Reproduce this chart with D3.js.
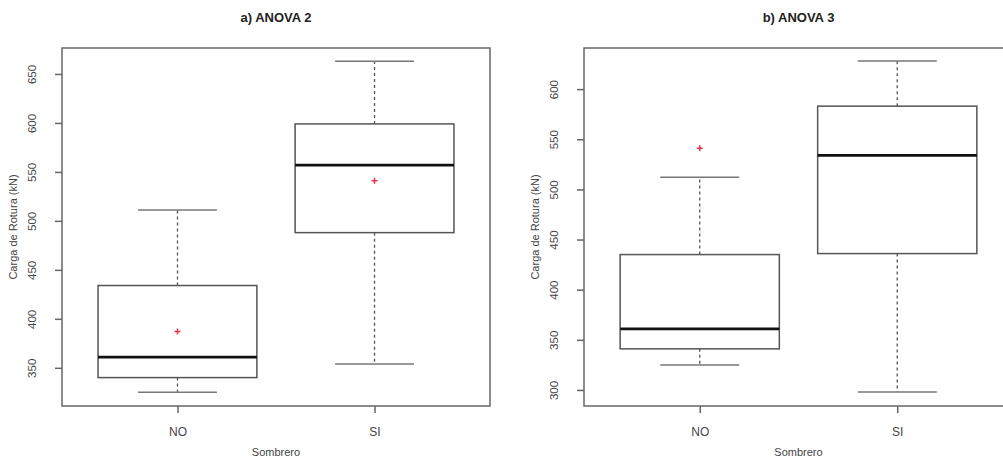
<!DOCTYPE html>
<html>
<head>
<meta charset="utf-8">
<script src="https://cdn.jsdelivr.net/npm/d3@7"></script>
<style>
  body { margin: 0; background: #fff; }
  text { font-family: "Liberation Sans", Arial, sans-serif; }
</style>
</head>
<body>
<svg id="chart" width="1003" height="461"></svg>
<script>
// categories and panel titles
var categories = ["NO", "SI"];
var panelTitles = ["a) ANOVA 2", "b) ANOVA 3"];

// ANOVA 2 box stats (kN)
var anova2Low = [325, 354];
var anova2Q1 = [340, 488];
var anova2Median = [361, 557];
var anova2Q3 = [434, 599];
var anova2High = [511, 663];
var anova2Mean = [387, 541];
var anova2Ticks = [350, 400, 450, 500, 550, 600, 650];

// ANOVA 3 box stats (kN)
var anova3Low = [325, 298];
var anova3Q1 = [341, 436];
var anova3Median = [361, 534];
var anova3Q3 = [435, 583];
var anova3High = [512, 628];
var anova3Mean = [541, null];
var anova3Ticks = [300, 350, 400, 450, 500, 550, 600];

var svg = d3.select("#chart");
var lineCol = "#555";
var textCol = "#444";

function buildRows(low, q1, med, q3, high, mean) {
    return categories.map(function (c, i) {
        return { cat: c, low: low[i], q1: q1[i], med: med[i], q3: q3[i], high: high[i], mean: mean[i] };
    });
}

function drawPanel(opts) {
    var x = d3.scalePoint()
        .domain(categories)
        .range([opts.left, opts.right])
        .padding(0.586);
    var y = d3.scaleLinear()
        .domain(opts.yDomain)
        .range([opts.bottom, opts.top]);
    var step = x.step();
    var boxHalf = step * 0.403;
    var capHalf = step * 0.2;

    var g = svg.append("g");

    // title
    g.append("text")
        .attr("x", (opts.left + opts.right) / 2)
        .attr("y", 22)
        .attr("text-anchor", "middle")
        .style("font-size", "13px")
        .style("font-weight", "bold")
        .style("fill", "#222")
        .text(opts.title);

    // frame
    g.append("rect")
        .attr("x", opts.left)
        .attr("y", opts.top)
        .attr("width", opts.right - opts.left)
        .attr("height", opts.bottom - opts.top)
        .attr("fill", "none")
        .attr("stroke", "#666")
        .attr("stroke-width", 1.5);

    // y axis
    var yAxis = d3.axisLeft(y).tickValues(opts.ticks).tickSize(7).tickPadding(0);
    var ya = g.append("g")
        .attr("transform", "translate(" + opts.left + ",0)")
        .call(yAxis);
    ya.select(".domain").remove();
    ya.selectAll(".tick line").attr("stroke", "#666").attr("stroke-width", 1.5);
    ya.selectAll(".tick text")
        .attr("x", 0)
        .attr("text-anchor", "middle")
        .attr("transform", "translate(-30,0) rotate(-90)")
        .attr("dy", "0.35em")
        .style("font-size", "11.5px")
        .style("font-family", "Liberation Sans, Arial, sans-serif")
        .style("fill", textCol);

    // x axis
    var xAxis = d3.axisBottom(x).tickSize(7).tickPadding(0);
    var xa = g.append("g")
        .attr("transform", "translate(0," + opts.bottom + ")")
        .call(xAxis);
    xa.select(".domain").remove();
    xa.selectAll(".tick line").attr("stroke", "#666").attr("stroke-width", 1.5);
    xa.selectAll(".tick text")
        .attr("y", 26).attr("dy", "0.35em")
        .style("font-size", "12px")
        .style("font-family", "Liberation Sans, Arial, sans-serif")
        .style("fill", textCol);

    // axis titles
    g.append("text")
        .attr("x", (opts.left + opts.right) / 2)
        .attr("y", 456)
        .attr("text-anchor", "middle")
        .style("font-size", "11px")
        .style("fill", textCol)
        .text("Sombrero");
    g.append("text")
        .attr("transform", "translate(" + (opts.left - 45) + "," + ((opts.top + opts.bottom) / 2) + ") rotate(-90)")
        .attr("text-anchor", "middle")
        .style("font-size", "11px")
        .style("fill", textCol)
        .text("Carga de Rotura (kN)");

    var boxes = g.selectAll(".box")
        .data(opts.rows)
        .enter().append("g")
        .attr("class", "box");

    // whiskers (dashed)
    boxes.append("line")
        .attr("x1", function (d) { return x(d.cat); })
        .attr("x2", function (d) { return x(d.cat); })
        .attr("y1", function (d) { return y(d.q3); })
        .attr("y2", function (d) { return y(d.high); })
        .attr("stroke", lineCol).attr("stroke-width", 1.3)
        .attr("stroke-dasharray", "3,3");
    boxes.append("line")
        .attr("x1", function (d) { return x(d.cat); })
        .attr("x2", function (d) { return x(d.cat); })
        .attr("y1", function (d) { return y(d.q1); })
        .attr("y2", function (d) { return y(d.low); })
        .attr("stroke", lineCol).attr("stroke-width", 1.3)
        .attr("stroke-dasharray", "3,3");

    // caps
    ["low", "high"].forEach(function (k) {
        boxes.append("line")
            .attr("x1", function (d) { return x(d.cat) - capHalf; })
            .attr("x2", function (d) { return x(d.cat) + capHalf; })
            .attr("y1", function (d) { return y(d[k]); })
            .attr("y2", function (d) { return y(d[k]); })
            .attr("stroke", "#777").attr("stroke-width", 1.5);
    });

    // box
    boxes.append("rect")
        .attr("x", function (d) { return x(d.cat) - boxHalf; })
        .attr("width", boxHalf * 2)
        .attr("y", function (d) { return y(d.q3); })
        .attr("height", function (d) { return y(d.q1) - y(d.q3); })
        .attr("fill", "none")
        .attr("stroke", lineCol)
        .attr("stroke-width", 1.5);

    // median
    boxes.append("line")
        .attr("x1", function (d) { return x(d.cat) - boxHalf; })
        .attr("x2", function (d) { return x(d.cat) + boxHalf; })
        .attr("y1", function (d) { return y(d.med); })
        .attr("y2", function (d) { return y(d.med); })
        .attr("stroke", "#111").attr("stroke-width", 2.8);

    // mean marker (red +)
    var means = boxes.filter(function (d) { return d.mean != null; });
    means.append("path")
        .attr("d", function (d) {
            var cx = x(d.cat), cy = y(d.mean);
            return "M" + (cx - 3) + "," + cy + "H" + (cx + 3) + "M" + cx + "," + (cy - 3) + "V" + (cy + 3);
        })
        .attr("stroke", "#e8334a")
        .attr("stroke-width", 1.5);
}

drawPanel({
    title: panelTitles[0],
    left: 62, right: 490, top: 48, bottom: 406,
    yDomain: [311, 676.5],
    ticks: anova2Ticks,
    rows: buildRows(anova2Low, anova2Q1, anova2Median, anova2Q3, anova2High, anova2Mean)
});

drawPanel({
    title: panelTitles[1],
    left: 584, right: 1013, top: 48, bottom: 406,
    yDomain: [284, 641],
    ticks: anova3Ticks,
    rows: buildRows(anova3Low, anova3Q1, anova3Median, anova3Q3, anova3High, anova3Mean)
});
</script>
</body>
</html>
